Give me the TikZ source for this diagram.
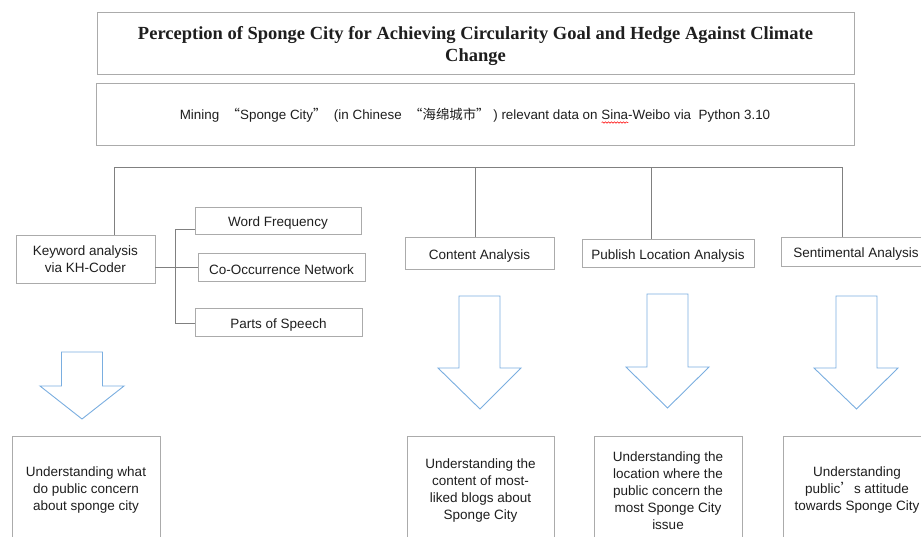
\documentclass[tikz,border=0pt]{standalone}
\usepackage{fontspec}
\setmainfont{Liberation Serif}
\setsansfont{Liberation Sans}
\newfontfamily\cjk{Noto Sans CJK SC}
\usetikzlibrary{decorations.pathmorphing}
\definecolor{boxgray}{HTML}{ABABAB}
\definecolor{linegray}{HTML}{808080}
\definecolor{arrowblue}{HTML}{7AAEE0}
\definecolor{txt}{HTML}{1E1E1E}
\newsavebox\wavebox
\newlength\wavelen
\newcommand\redwave[1]{\sbox\wavebox{#1}\setlength\wavelen{\wd\wavebox}%
  \rlap{\tikz[baseline=0pt]\draw[red,line width=0.5pt,decorate,decoration={snake,amplitude=0.7pt,segment length=3pt}] (0pt,-3pt) -- (\wavelen,-3pt);}\usebox\wavebox}
\begin{document}
\begin{tikzpicture}[x=1pt,y=-1pt,
  box/.style={draw=boxgray,line width=0.9pt,inner sep=0pt,align=center,text=txt,
    font=\sffamily\fontsize{13.5}{17}\selectfont,
    execute at begin node={\rule{0pt}{15pt}}},
  conn/.style={draw=linegray,line width=0.9pt},
  blockarrow/.style={draw=arrowblue,line width=0.9pt,fill=white,line join=miter}]
\path[use as bounding box] (0,0) rectangle (921,536);
\clip (0,0) rectangle (921,536);
% header boxes
\node[box,minimum width=757pt,minimum height=62pt,
  font=\rmfamily\bfseries\fontsize{18.5}{22}\selectfont,
  execute at begin node={}]
  (title) at (475.5,43) {\raisebox{-3pt}[\height][\depth]{\begin{tabular}{@{}c@{}}Perception of Sponge City for Achieving Circularity Goal and Hedge Against Climate\\Change\end{tabular}}};
\node[box,minimum width=758pt,minimum height=62pt,font=\sffamily\fontsize{13.4}{16}\selectfont]
  (mining) at (475,114) {Mining\ \ {\cjk “}Sponge City{\cjk ”}\ \ (in Chinese\ \ {\cjk “海绵城市”}\ )\ relevant data on \redwave{Sina}-Weibo via\ \ Python 3.10};
% analysis boxes
\node[box,minimum width=139pt,minimum height=48pt] (kw) at (85.5,259) {Keyword analysis\\via KH-Coder};
\node[box,minimum width=166pt,minimum height=27pt] (wf) at (278,220.5) {Word Frequency};
\node[box,minimum width=167pt,minimum height=28pt] (co) at (281.5,267) {Co-Occurrence Network};
\node[box,minimum width=167pt,minimum height=28pt] (pos) at (278.5,322) {Parts of Speech};
\node[box,minimum width=149pt,minimum height=32pt] (ca) at (479.5,253) {Content Analysis};
\node[box,minimum width=172pt,minimum height=28pt] (pl) at (668,253) {Publish Location Analysis};
\node[box,minimum width=150pt,minimum height=29pt] (sa) at (856,251.5) {Sentimental Analysis};
% bus
\coordinate (b1) at (114,167);
\coordinate (b2) at (475,167);
\coordinate (b3) at (651,167);
\coordinate (b4) at (842,167);
\draw[conn] (b1) -- (b4);
\draw[conn] (b1) -- (b1 |- kw.north);
\draw[conn] (b2) -- (b2 |- ca.north);
\draw[conn] (b3) -- (b3 |- pl.north);
\draw[conn] (b4) -- (b4 |- sa.north);
% bracket
\coordinate (bt) at (175,229);
\coordinate (bb) at (175,323);
\draw[conn] (bt -| wf.west) -- (bt) -- (bb) -- (bb -| pos.west);
\draw[conn] (kw.east |- co.west) -- (co.west);
% block arrows
\draw[blockarrow] (61.5,352) -- (102.5,352) -- (102.5,386) -- (124,386) -- (82,419) -- (40,386) -- (61.5,386) -- cycle;
\draw[blockarrow] (459,296) -- (500,296) -- (500,368) -- (521,368) -- (480,409) -- (438,368) -- (459,368) -- cycle;
\draw[blockarrow] (647,294) -- (688,294) -- (688,367) -- (709,367) -- (667.5,408) -- (626,367) -- (647,367) -- cycle;
\draw[blockarrow] (836,296) -- (877,296) -- (877,368) -- (898,368) -- (856.5,409) -- (814,368) -- (836,368) -- cycle;
% result boxes
\node[box,minimum width=148pt,minimum height=109pt] (r1) at (86,490.5) {Understanding what\\do public concern\\about sponge city};
\node[box,minimum width=147pt,minimum height=109pt] (r2) at (480.5,490.5) {Understanding the\\content of most-\\liked blogs about\\Sponge City};
\node[box,minimum width=148pt,minimum height=109pt] (r3) at (668,490.5) {Understanding the\\location where the\\public concern the\\most Sponge City\\issue};
\node[box,minimum width=148pt,minimum height=109pt] (r4) at (857,490.5) {Understanding\\public{\cjk ’}s attitude\\towards Sponge City};
\end{tikzpicture}
\end{document}
